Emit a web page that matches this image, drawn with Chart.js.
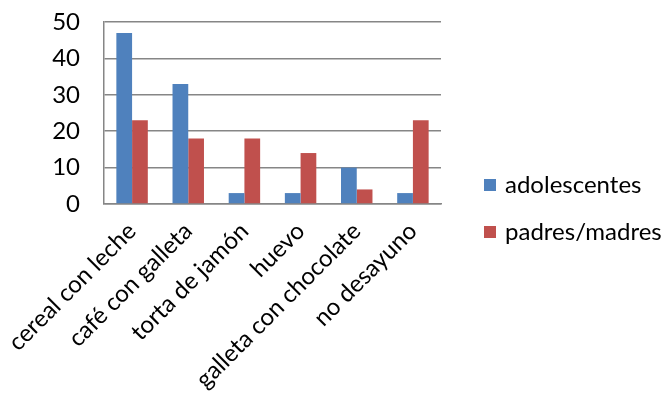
<!DOCTYPE html>
<html>
<head>
<meta charset="utf-8">
<script src="https://cdn.jsdelivr.net/npm/chart.js@4/dist/chart.umd.min.js"></script>
<style>
html,body{margin:0;padding:0;background:#fff;}
#wrap{width:671px;height:401px;position:relative;}
</style>
</head>
<body>
<div id="wrap"><canvas id="c" width="671" height="401"></canvas></div>
<script>
const categories = ["cereal con leche", "café con galleta", "torta de jamón", "huevo", "galleta con chocolate", "no desayuno"];
const adolescentes = [47, 33, 3, 3, 10, 3];
const padresMadres = [23, 18, 18, 14, 4, 23];
const seriesNames = ["adolescentes", "padres/madres"];
const yTicks = [0, 10, 20, 30, 40, 50];

const FONT = "Lato";
const FS = 24;

const legendPlugin = {
  id: 'sideLegend',
  afterDraw(chart) {
    const ctx = chart.ctx;
    ctx.save();
    ctx.font = FS + "px " + FONT;
    ctx.textBaseline = 'middle';
    ctx.textAlign = 'left';
    const x0 = 484, y0 = 185, gap = 47;
    chart.data.datasets.forEach((ds, i) => {
      const y = y0 + i * gap;
      ctx.fillStyle = ds.backgroundColor;
      ctx.fillRect(x0, y - 6, 12, 12);
      ctx.fillStyle = '#000';
      ctx.fillText(ds.label, x0 + 21, y);
    });
    ctx.restore();
  }
};

new Chart(document.getElementById('c'), {
  type: 'bar',
  data: {
    labels: categories,
    datasets: [
      { label: seriesNames[0], data: adolescentes, backgroundColor: '#4F81BD', categoryPercentage: 0.56, barPercentage: 1.0 },
      { label: seriesNames[1], data: padresMadres, backgroundColor: '#C0504D', categoryPercentage: 0.56, barPercentage: 1.0 }
    ]
  },
  options: {
    responsive: false,
    animation: false,
    layout: { padding: { top: 22, right: 230, bottom: 0, left: 0 } },
    plugins: { legend: { display: false }, tooltip: { enabled: false } },
    scales: {
      x: {
        grid: { display: false, drawTicks: false },
        border: { display: true, color: '#868686', width: 1.5 },
        ticks: { color: '#000', font: { family: FONT, size: FS }, minRotation: 45, maxRotation: 45, padding: 13, autoSkip: false },
        afterFit(scale) { scale.height = 197; scale.paddingLeft = 0; scale.paddingRight = 0; }
      },
      y: {
        min: 0, max: 50,
        afterBuildTicks(scale) { scale.ticks = yTicks.map(v => ({ value: v })); },
        grid: { color: '#868686', lineWidth: 1.5, drawTicks: false },
        border: { display: true, color: '#868686', width: 1.5 },
        ticks: { color: '#000', font: { family: FONT, size: FS }, padding: 24 },
        afterFit(scale) { scale.width = 104; scale.paddingTop = 0; scale.paddingBottom = 0; }
      }
    }
  },
  plugins: [legendPlugin]
});
</script>
</body>
</html>
